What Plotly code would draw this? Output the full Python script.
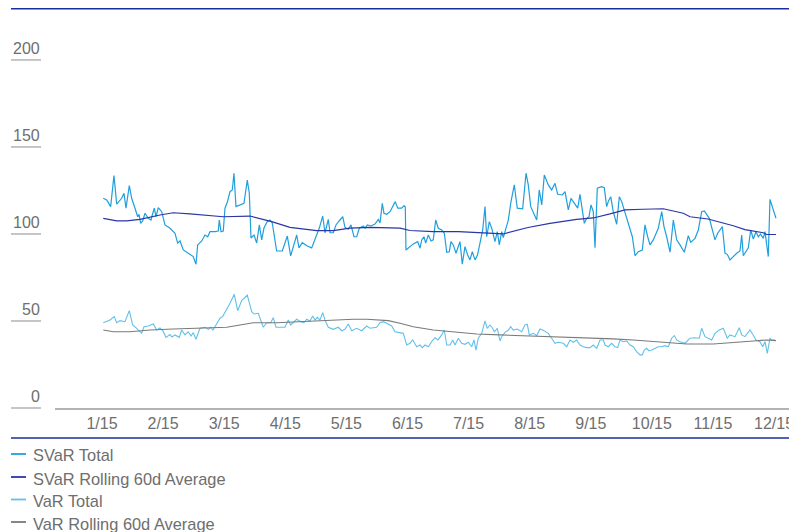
import plotly.graph_objects as go

# ---------------- data ----------------
tick_labels = ["1/15", "2/15", "3/15", "4/15", "5/15", "6/15",
               "7/15", "8/15", "9/15", "10/15", "11/15", "12/15"]
tick_pos = [0, 1, 2, 3, 4, 5, 6, 7, 8, 9, 10, 11]
y_ticks = [0, 50, 100, 150, 200]

svar_x = [0.021, 0.077, 0.142, 0.196, 0.241, 0.322, 0.360, 0.393, 0.447, 0.486,
          0.540, 0.584, 0.606, 0.633, 0.666, 0.704, 0.758, 0.802, 0.823, 0.856,
          0.884, 0.921, 0.977, 1.031, 1.113, 1.195, 1.239, 1.277, 1.331, 1.412,
          1.494, 1.538, 1.566, 1.632, 1.686, 1.730, 1.768, 1.849, 1.903, 1.920,
          1.948, 1.985, 2.013, 2.051, 2.095, 2.133, 2.160, 2.193, 2.247, 2.324,
          2.378, 2.411, 2.439, 2.488, 2.532, 2.575, 2.614, 2.651, 2.701, 2.750,
          2.787, 2.859, 2.951, 3.033, 3.088, 3.187, 3.224, 3.278, 3.360, 3.432,
          3.502, 3.557, 3.612, 3.650, 3.704, 3.732, 3.786, 3.830, 3.884, 3.940,
          3.977, 4.031, 4.075, 4.124, 4.169, 4.211, 4.277, 4.305, 4.342, 4.403,
          4.468, 4.522, 4.550, 4.588, 4.615, 4.660, 4.714, 4.800, 4.840, 4.905,
          4.943, 4.964, 4.975, 5.041, 5.095, 5.167, 5.205, 5.233, 5.270, 5.298,
          5.341, 5.385, 5.422, 5.462, 5.504, 5.560, 5.603, 5.642, 5.684, 5.712,
          5.750, 5.794, 5.832, 5.859, 5.897, 5.941, 5.985, 6.023, 6.061, 6.105,
          6.146, 6.187, 6.231, 6.269, 6.296, 6.339, 6.378, 6.432, 6.470, 6.503,
          6.542, 6.568, 6.596, 6.650, 6.694, 6.748, 6.797, 6.885, 6.940, 6.977,
          7.017, 7.115, 7.157, 7.197, 7.239, 7.305, 7.360, 7.414, 7.458, 7.534,
          7.578, 7.632, 7.676, 7.714, 7.753, 7.786, 7.823, 7.894, 7.933, 7.971,
          8.003, 8.041, 8.069, 8.107, 8.178, 8.221, 8.260, 8.290, 8.326, 8.368,
          8.424, 8.467, 8.506, 8.532, 8.588, 8.625, 8.680, 8.724, 8.778, 8.843,
          8.887, 8.931, 8.969, 9.023, 9.105, 9.161, 9.198, 9.242, 9.297, 9.351,
          9.406, 9.460, 9.531, 9.596, 9.635, 9.706, 9.760, 9.815, 9.858, 9.940,
          9.979, 10.033, 10.077, 10.153, 10.197, 10.234, 10.278, 10.344, 10.388, 10.442,
          10.470, 10.496, 10.578, 10.617, 10.660, 10.704, 10.742, 10.777, 10.823, 10.851,
          10.879, 10.905, 10.933, 11.031]
svar_total = [120.5, 119.5, 115.7, 133.5, 117.1, 120.5, 123.4, 114.8, 127.8, 120.5,
              114.8, 109.9, 111.3, 106.1, 107.5, 111.9, 109.0, 108.0, 110.9, 114.8,
              109.9, 115.1, 112.8, 105.2, 103.3, 100.4, 94.7, 96.0, 90.8, 88.9,
              87.0, 82.6, 93.7, 96.0, 99.4, 98.4, 101.3, 101.3, 101.7, 108.0,
              101.3, 101.7, 114.8, 118.2, 124.3, 125.3, 134.9, 115.7, 116.3, 117.6,
              131.0, 123.4, 97.7, 99.4, 94.8, 105.2, 96.6, 103.4, 106.9, 108.0,
              106.3, 90.2, 90.2, 98.8, 87.4, 99.4, 92.0, 95.0, 93.1, 92.0,
              98.4, 103.4, 110.3, 100.7, 108.4, 100.7, 100.7, 105.2, 107.6, 109.9,
              103.8, 102.7, 105.2, 98.4, 98.4, 103.3, 104.6, 103.3, 105.2, 104.6,
              105.7, 108.4, 106.3, 117.6, 111.9, 111.3, 112.8, 118.6, 114.8, 114.8,
              116.3, 115.5, 90.8, 92.7, 94.3, 95.6, 91.8, 96.6, 98.4, 94.7,
              99.4, 96.0, 96.6, 108.0, 103.3, 102.3, 100.4, 89.5, 89.8, 95.6,
              93.7, 88.9, 92.7, 95.6, 82.6, 92.7, 87.9, 85.1, 89.8, 85.1,
              87.9, 94.7, 102.3, 115.7, 98.4, 107.1, 103.3, 95.6, 101.3, 93.7,
              101.3, 97.9, 101.3, 108.0, 118.6, 128.2, 114.8, 114.4, 134.9, 128.2,
              115.7, 108.0, 125.3, 116.7, 133.9, 128.2, 125.3, 129.1, 122.8, 122.4,
              124.3, 113.8, 120.5, 118.6, 117.1, 114.8, 122.8, 106.1, 109.0, 109.9,
              116.7, 112.8, 92.1, 126.3, 127.2, 126.6, 115.7, 119.0, 121.4, 112.8,
              105.6, 121.4, 118.6, 115.7, 109.0, 104.2, 98.4, 87.5, 89.8, 90.8,
              105.2, 98.4, 93.7, 96.6, 103.3, 112.8, 104.2, 98.4, 89.5, 108.0,
              96.6, 93.7, 89.5, 99.0, 95.2, 97.5, 102.3, 112.8, 113.2, 109.0,
              103.3, 96.6, 100.4, 104.2, 88.9, 88.3, 85.1, 87.5, 88.9, 90.2,
              99.4, 87.5, 92.1, 102.3, 97.1, 101.3, 98.4, 100.0, 97.5, 101.3,
              95.2, 87.0, 119.9, 109.0]

svar_avg_x = [0.021, 0.241, 0.404, 0.622, 0.949, 1.167, 1.440, 1.658, 1.985, 2.422,
              2.640, 2.777, 3.077, 3.514, 3.786, 4.059, 4.386, 4.877, 5.041, 5.422,
              5.832, 6.133, 6.568, 6.972, 7.332, 7.769, 8.041, 8.314, 8.560, 8.855,
              9.187, 9.514, 9.624, 9.918, 10.169, 10.333, 10.524, 10.823, 10.879, 11.031]
svar_avg = [109.0, 107.5, 107.5, 108.4, 110.9, 112.2, 111.5, 110.7, 109.9, 110.3,
            108.4, 107.1, 103.8, 101.9, 101.9, 103.3, 103.8, 103.3, 102.0, 101.3,
            101.3, 100.6, 100.0, 103.7, 106.1, 108.4, 109.2, 111.5, 113.8, 114.2,
            114.5, 111.9, 109.9, 108.6, 106.5, 104.7, 102.5, 100.7, 99.7, 99.7]

var_x = [0.021, 0.131, 0.201, 0.241, 0.295, 0.376, 0.447, 0.502, 0.568, 0.650,
         0.687, 0.758, 0.840, 0.895, 0.949, 0.998, 1.047, 1.113, 1.146, 1.195,
         1.265, 1.304, 1.358, 1.412, 1.457, 1.494, 1.538, 1.604, 1.686, 1.740,
         1.779, 1.817, 1.866, 1.931, 1.975, 2.041, 2.095, 2.165, 2.221, 2.286,
         2.324, 2.378, 2.450, 2.488, 2.558, 2.640, 2.696, 2.761, 2.804, 2.848,
         2.995, 3.049, 3.088, 3.131, 3.187, 3.252, 3.306, 3.350, 3.404, 3.449,
         3.486, 3.524, 3.568, 3.612, 3.650, 3.704, 3.786, 3.867, 3.923, 3.977,
         4.031, 4.087, 4.169, 4.250, 4.332, 4.386, 4.496, 4.550, 4.604, 4.660,
         4.742, 4.795, 4.877, 4.931, 4.987, 5.041, 5.085, 5.151, 5.205, 5.242,
         5.287, 5.341, 5.396, 5.450, 5.499, 5.560, 5.602, 5.642, 5.696, 5.740,
         5.777, 5.832, 5.887, 5.941, 5.995, 6.051, 6.088, 6.121, 6.159, 6.215,
         6.269, 6.306, 6.350, 6.388, 6.421, 6.470, 6.514, 6.542, 6.596, 6.650,
         6.689, 6.732, 6.797, 6.869, 6.923, 6.961, 6.994, 7.059, 7.115, 7.169,
         7.213, 7.267, 7.305, 7.360, 7.414, 7.468, 7.550, 7.606, 7.660, 7.714,
         7.769, 7.823, 7.877, 7.933, 7.987, 8.041, 8.097, 8.151, 8.205, 8.233,
         8.287, 8.342, 8.396, 8.440, 8.478, 8.532, 8.588, 8.642, 8.696, 8.751,
         8.805, 8.843, 8.876, 8.915, 8.953, 8.997, 9.051, 9.105, 9.161, 9.215,
         9.269, 9.324, 9.367, 9.406, 9.460, 9.542, 9.624, 9.706, 9.776, 9.815,
         9.869, 9.923, 9.979, 10.033, 10.103, 10.169, 10.234, 10.278, 10.360, 10.431,
         10.470, 10.524, 10.606, 10.650, 10.704, 10.769, 10.814, 10.851, 10.889, 10.933,
         10.961, 11.015]
var_total = [49.0, 50.6, 52.5, 49.0, 50.2, 49.6, 55.9, 47.7, 45.8, 42.9,
             46.7, 47.1, 48.3, 44.8, 46.0, 44.3, 40.6, 42.2, 40.8, 42.0,
             40.6, 44.8, 42.0, 43.8, 41.4, 43.3, 39.5, 45.8, 46.4, 45.2,
             46.4, 44.8, 47.7, 51.6, 52.5, 56.3, 60.2, 65.3, 55.9, 61.7,
             63.2, 64.9, 55.3, 54.0, 54.4, 46.4, 49.0, 49.0, 51.9, 46.4,
             46.4, 50.6, 47.7, 49.0, 51.0, 49.6, 49.0, 51.0, 50.0, 52.9,
             50.6, 52.1, 50.6, 54.8, 50.6, 46.4, 45.2, 46.4, 44.4, 45.2,
             48.3, 44.4, 45.8, 44.4, 47.1, 45.8, 46.4, 49.0, 49.6, 48.7,
             47.1, 43.8, 43.3, 42.9, 36.2, 37.2, 39.1, 35.2, 36.2, 34.7,
             36.2, 35.2, 38.1, 40.4, 39.1, 42.0, 44.8, 36.2, 36.2, 39.1,
             36.2, 40.1, 37.2, 36.6, 37.8, 35.2, 39.1, 33.3, 40.1, 42.9,
             50.0, 45.8, 47.7, 46.1, 43.8, 45.8, 38.5, 41.0, 43.5, 44.8,
             46.7, 44.8, 45.4, 43.8, 47.7, 48.1, 42.0, 42.9, 41.6, 45.4,
             44.8, 43.8, 42.9, 40.1, 37.2, 37.8, 37.2, 35.2, 39.1, 37.8,
             39.1, 36.2, 35.2, 34.7, 34.7, 36.2, 34.3, 39.1, 39.1, 36.2,
             35.2, 37.2, 35.2, 34.7, 39.1, 38.1, 38.5, 36.2, 35.2, 32.4,
             30.5, 30.5, 33.3, 34.3, 32.8, 33.3, 34.3, 35.2, 35.2, 35.8,
             35.2, 40.1, 41.6, 39.1, 38.1, 37.2, 40.1, 40.4, 40.1, 45.8,
             41.0, 40.1, 39.1, 42.9, 44.8, 45.8, 40.1, 42.0, 41.0, 46.1,
             42.0, 41.0, 44.8, 42.4, 39.1, 38.1, 35.2, 38.1, 31.4, 40.1,
             39.1, 39.1]

var_avg_x = [0.021, 0.185, 0.458, 0.786, 1.167, 1.604, 2.041, 2.259, 2.476, 2.859,
             3.241, 3.568, 3.786, 4.113, 4.332, 4.686, 4.877, 5.095, 5.422, 5.859,
             6.133, 6.514, 7.059, 7.442, 7.933, 8.368, 8.696, 9.023, 9.297, 9.570,
             10.005, 10.333, 10.660, 10.879, 11.031]
var_avg = [44.8, 43.8, 43.8, 44.8, 45.4, 45.8, 46.4, 47.7, 49.0, 49.0,
           49.6, 50.2, 50.6, 51.0, 51.0, 50.2, 48.7, 46.7, 44.8, 43.3,
           42.5, 42.0, 41.4, 40.6, 40.1, 39.7, 39.1, 38.1, 37.5, 36.8,
           36.8, 37.5, 38.5, 39.1, 38.7]

series_names = ["SVaR Total", "SVaR Rolling 60d Average", "VaR Total", "VaR Rolling 60d Average"]
series_colors = ["#1f9fdc", "#2a35a8", "#62c0ea", "#7a7a7a"]

# ---------------- layout geometry ----------------
# The page places the figure 8px in from the top-left corner, so the figure
# is sized to the remaining window and positions are given in window pixels.
OFF = 8
W, H = 797 - OFF, 532 - OFF
L, R, T = 55 - OFF, 0, 30 - OFF
B = H - (408 - OFF)
PW, PH = W - L - R, H - T - B
YMAX = 217.2
XMIN, XMAX = -0.769, 11.375
FONT = "Liberation Sans, Arial, sans-serif"
TXT = "#6e6e6e"
RULE = "#b3b3b3"
NAVY = "#1c2d9c"


def fx(p):  # window pixel x -> paper
    return (p - OFF - L) / PW


def fy(p):  # window pixel y (from top) -> paper
    return (H - B - (p - OFF)) / PH


fig = go.Figure()
xs = [svar_x, svar_avg_x, var_x, var_avg_x]
ys = [svar_total, svar_avg, var_total, var_avg]
widths = [1.2, 1.2, 1.1, 1.1]
order = [2, 3, 0, 1]
for i in order:
    fig.add_trace(go.Scatter(x=xs[i], y=ys[i], mode="lines", name=series_names[i],
                             line=dict(color=series_colors[i], width=widths[i]),
                             showlegend=False, hoverinfo="x+y+name"))

shapes = []
annotations = []
# top and bottom navy rules
for yp in (8.8, 438):
    shapes.append(dict(type="line", xref="paper", yref="paper", x0=fx(11), x1=fx(797),
                       y0=fy(yp), y1=fy(yp), line=dict(color=NAVY, width=1.5)))
# y tick underlines and labels
for v in y_ticks:
    shapes.append(dict(type="line", xref="paper", yref="paper", x0=fx(11), x1=fx(41),
                       y0=v / YMAX, y1=v / YMAX, line=dict(color=RULE, width=1.5)))
    annotations.append(dict(text=str(v), xref="paper", yref="y", x=fx(42), y=v,
                            xanchor="right", yanchor="bottom", showarrow=False, yshift=1,
                            font=dict(family=FONT, size=16, color=TXT)))
# custom legend
legend_y = [454, 477, 499.5, 522]
for name, col, ly in zip(series_names, series_colors, legend_y):
    shapes.append(dict(type="line", xref="paper", yref="paper", x0=fx(11), x1=fx(26),
                       y0=fy(ly), y1=fy(ly), line=dict(color=col, width=1.8)))
    annotations.append(dict(text=name, xref="paper", yref="paper", x=fx(31), y=fy(ly + 1.5),
                            xanchor="left", yanchor="middle", showarrow=False,
                            font=dict(family=FONT, size=16.4, color=TXT)))

fig.update_layout(
    width=W, height=H,
    margin=dict(l=L, r=R, t=T, b=B, pad=0),
    paper_bgcolor="white", plot_bgcolor="white",
    font=dict(family=FONT, size=16, color=TXT),
    showlegend=False,
    shapes=shapes, annotations=annotations,
    xaxis=dict(range=[XMIN, XMAX], tickmode="array", tickvals=tick_pos, ticktext=tick_labels,
               showgrid=False, zeroline=False, showline=True, linecolor=RULE, linewidth=1.5,
               ticks="", tickfont=dict(family=FONT, size=16, color=TXT), fixedrange=True),
    yaxis=dict(range=[0, YMAX], showgrid=False, zeroline=False, showline=False,
               showticklabels=False, ticks="", fixedrange=True),
)

fig.write_html("out.html")
